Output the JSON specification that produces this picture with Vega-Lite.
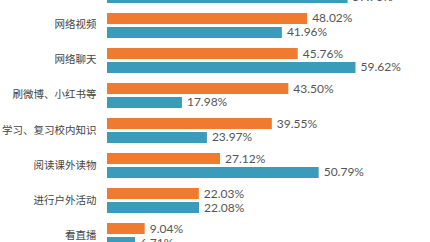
{
  "$schema": "https://vega.github.io/schema/vega-lite/v6.json",
  "autosize": "none",
  "width": 323,
  "height": 242,
  "padding": {"left": 107, "top": 0, "right": 0, "bottom": 0},
  "background": "#ffffff",
  "config": {"view": {"stroke": null}, "font": "Lato"},
  "data": {"values": [
    {"activity": "玩游戏", "group": "a", "value": 0.6215},
    {"activity": "玩游戏", "group": "b", "value": 0.5773},
    {"activity": "网络视频", "group": "a", "value": 0.4802},
    {"activity": "网络视频", "group": "b", "value": 0.4196},
    {"activity": "网络聊天", "group": "a", "value": 0.4576},
    {"activity": "网络聊天", "group": "b", "value": 0.5962},
    {"activity": "刷微博、小红书等", "group": "a", "value": 0.4350},
    {"activity": "刷微博、小红书等", "group": "b", "value": 0.1798},
    {"activity": "学习、复习校内知识", "group": "a", "value": 0.3955},
    {"activity": "学习、复习校内知识", "group": "b", "value": 0.2397},
    {"activity": "阅读课外读物", "group": "a", "value": 0.2712},
    {"activity": "阅读课外读物", "group": "b", "value": 0.5079},
    {"activity": "进行户外活动", "group": "a", "value": 0.2203},
    {"activity": "进行户外活动", "group": "b", "value": 0.2208},
    {"activity": "看直播", "group": "a", "value": 0.0904},
    {"activity": "看直播", "group": "b", "value": 0.0671}
  ]},
  "encoding": {
    "y": {
      "field": "activity", "type": "nominal", "sort": null,
      "scale": {"range": [-27, 253], "paddingInner": 0.2857, "paddingOuter": 0.1428},
      "axis": {"title": null, "domain": false, "ticks": false, "labelPadding": 11, "labelFontSize": 10.5, "labelColor": "#444444", "labelFont": "Noto Sans CJK SC", "labelFontWeight": "normal"}
    },
    "yOffset": {"field": "group", "type": "nominal", "scale": {"paddingInner": 0.214, "paddingOuter": 0}},
    "x": {"field": "value", "type": "quantitative", "scale": {"domain": [0, 0.775], "nice": false}, "axis": null}
  },
  "layer": [
    {
      "mark": {"type": "bar"},
      "encoding": {
        "color": {"field": "group", "type": "nominal", "scale": {"domain": ["a", "b"], "range": ["#EE7B30", "#3A9BBA"]}, "legend": null}
      }
    },
    {
      "mark": {"type": "text", "align": "left", "baseline": "middle", "dx": 5, "fontSize": 12, "color": "#555555", "font": "Lato"},
      "encoding": {
        "text": {"field": "value", "type": "quantitative", "format": ".2%"}
      }
    }
  ]
}
